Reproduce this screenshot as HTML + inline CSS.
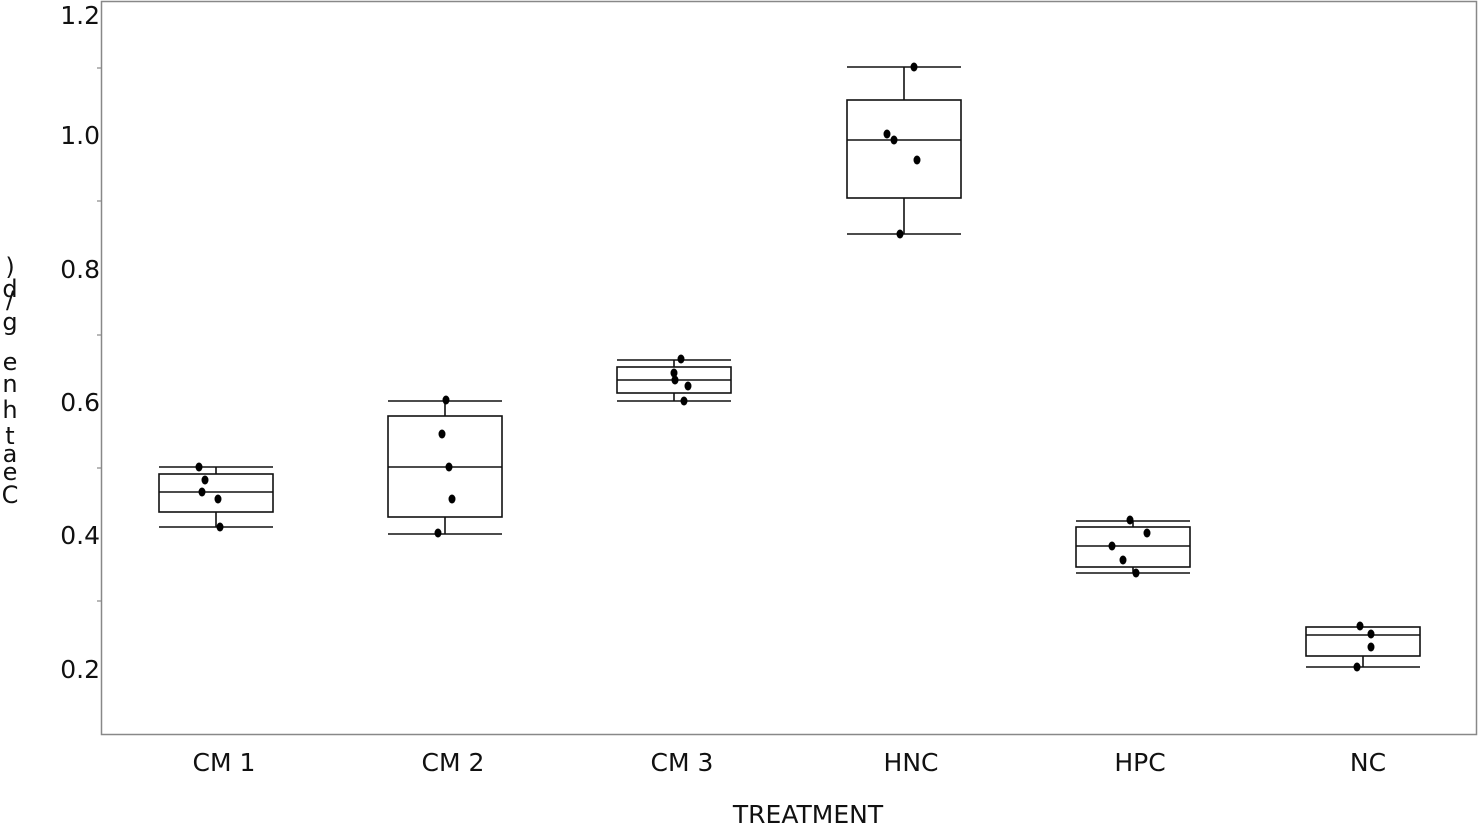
<!DOCTYPE html>
<html><head><meta charset="utf-8"><style>
html,body{margin:0;padding:0;background:#fff;}
svg{display:block;font-family:"DejaVu Sans","Liberation Sans",sans-serif;}
</style></head><body>
<svg width="1478" height="828" viewBox="0 0 1478 828" xmlns="http://www.w3.org/2000/svg">
<rect x="101.5" y="1.5" width="1375" height="733" fill="#fff" stroke="#888" stroke-width="1.5"/>
<g stroke="#888" stroke-width="1.2">
<line x1="97" y1="68" x2="101" y2="68"/><line x1="97" y1="201" x2="101" y2="201"/>
<line x1="97" y1="335" x2="101" y2="335"/><line x1="97" y1="468" x2="101" y2="468"/>
<line x1="97" y1="601" x2="101" y2="601"/>
</g>
<g font-size="25" fill="#111" text-anchor="end">
<text x="100" y="24">1.2</text><text x="100" y="144">1.0</text>
<text x="100" y="278">0.8</text><text x="100" y="411">0.6</text>
<text x="100" y="544">0.4</text><text x="100" y="678">0.2</text>
</g>
<g font-size="25" fill="#111" text-anchor="middle">
<text x="224" y="771">CM 1</text><text x="453" y="771">CM 2</text>
<text x="682" y="771">CM 3</text><text x="911" y="771">HNC</text>
<text x="1140" y="771">HPC</text><text x="1368" y="771">NC</text>
<text x="808" y="823">TREATMENT</text>
</g>
<g font-size="24" fill="#111" text-anchor="middle">
<text x="10" y="275">)</text><text x="10" y="297">d</text><text x="10" y="308">/</text>
<text x="10" y="330">g</text><text x="10" y="370">e</text><text x="10" y="392">n</text>
<text x="10" y="418">h</text><text x="10" y="444">t</text><text x="10" y="462">a</text>
<text x="10" y="480">e</text><text x="10" y="503">C</text>
</g>
<g fill="none" stroke="#111" stroke-width="1.6">
<!-- CM1 -->
<line x1="159" y1="467" x2="273" y2="467"/><line x1="159" y1="527" x2="273" y2="527"/>
<line x1="216" y1="467" x2="216" y2="527"/>
<rect x="159" y="474" width="114" height="38" fill="#fff"/><line x1="159" y1="492" x2="273" y2="492"/>
<!-- CM2 -->
<line x1="388" y1="401" x2="502" y2="401"/><line x1="388" y1="534" x2="502" y2="534"/>
<line x1="445" y1="401" x2="445" y2="534"/>
<rect x="388" y="416" width="114" height="101" fill="#fff"/><line x1="388" y1="467" x2="502" y2="467"/>
<!-- CM3 -->
<line x1="617" y1="360" x2="731" y2="360"/><line x1="617" y1="401" x2="731" y2="401"/>
<line x1="674" y1="360" x2="674" y2="401"/>
<rect x="617" y="367" width="114" height="26" fill="#fff"/><line x1="617" y1="380" x2="731" y2="380"/>
<!-- HNC -->
<line x1="847" y1="67" x2="961" y2="67"/><line x1="847" y1="234" x2="961" y2="234"/>
<line x1="904" y1="67" x2="904" y2="234"/>
<rect x="847" y="100" width="114" height="98" fill="#fff"/><line x1="847" y1="140" x2="961" y2="140"/>
<!-- HPC -->
<line x1="1076" y1="521" x2="1190" y2="521"/><line x1="1076" y1="573" x2="1190" y2="573"/>
<line x1="1133" y1="521" x2="1133" y2="573"/>
<rect x="1076" y="527" width="114" height="40" fill="#fff"/><line x1="1076" y1="546" x2="1190" y2="546"/>
<!-- NC -->
<line x1="1306" y1="667" x2="1420" y2="667"/>
<line x1="1363" y1="627" x2="1363" y2="667"/>
<rect x="1306" y="627" width="114" height="29" fill="#fff"/><line x1="1306" y1="635" x2="1420" y2="635"/>
</g>
<g fill="#000">
<ellipse cx="199" cy="467" rx="3.5" ry="4.5"/><ellipse cx="205" cy="480" rx="3.5" ry="4.5"/>
<ellipse cx="202" cy="492" rx="3.5" ry="4.5"/><ellipse cx="218" cy="499" rx="3.5" ry="4.5"/>
<ellipse cx="220" cy="527" rx="3.5" ry="4.5"/>
<ellipse cx="446" cy="400" rx="3.5" ry="4.5"/><ellipse cx="442" cy="434" rx="3.5" ry="4.5"/>
<ellipse cx="449" cy="467" rx="3.5" ry="4.5"/><ellipse cx="452" cy="499" rx="3.5" ry="4.5"/>
<ellipse cx="438" cy="533" rx="3.5" ry="4.5"/>
<ellipse cx="681" cy="359" rx="3.5" ry="4.5"/><ellipse cx="674" cy="373" rx="3.5" ry="4.5"/>
<ellipse cx="675" cy="380" rx="3.5" ry="4.5"/><ellipse cx="688" cy="386" rx="3.5" ry="4.5"/>
<ellipse cx="684" cy="401" rx="3.5" ry="4.5"/>
<ellipse cx="914" cy="67" rx="3.5" ry="4.5"/><ellipse cx="887" cy="134" rx="3.5" ry="4.5"/>
<ellipse cx="894" cy="140" rx="3.5" ry="4.5"/><ellipse cx="917" cy="160" rx="3.5" ry="4.5"/>
<ellipse cx="900" cy="234" rx="3.5" ry="4.5"/>
<ellipse cx="1130" cy="520" rx="3.5" ry="4.5"/><ellipse cx="1147" cy="533" rx="3.5" ry="4.5"/>
<ellipse cx="1112" cy="546" rx="3.5" ry="4.5"/><ellipse cx="1123" cy="560" rx="3.5" ry="4.5"/>
<ellipse cx="1136" cy="573" rx="3.5" ry="4.5"/>
<ellipse cx="1360" cy="626" rx="3.5" ry="4.5"/><ellipse cx="1371" cy="634" rx="3.5" ry="4.5"/>
<ellipse cx="1371" cy="647" rx="3.5" ry="4.5"/><ellipse cx="1357" cy="667" rx="3.5" ry="4.5"/>
</g>
</svg>
</body></html>
